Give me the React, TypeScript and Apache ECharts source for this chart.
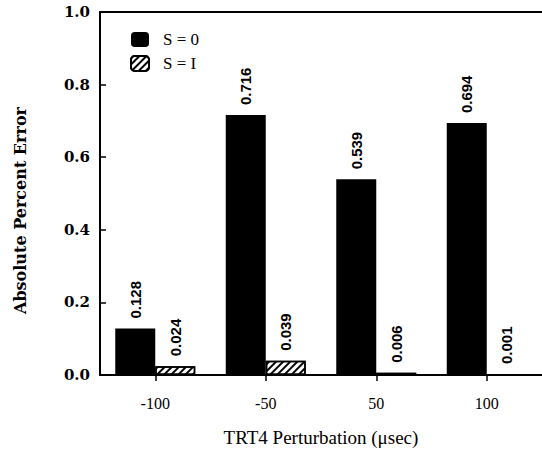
import React, { useEffect, useRef } from "react";
import * as echarts from "echarts";

const categories = ["-100", "-50", "50", "100"];
const s0Values = [0.128, 0.716, 0.539, 0.694];
const s1Values = [0.024, 0.039, 0.006, 0.001];
const yTicks = [0, 0.2, 0.4, 0.6, 0.8, 1.0];
const seriesNames = ["S = 0", "S = I"];

export default function App() {
  const ref = useRef<HTMLDivElement>(null);
  useEffect(() => {
    if (!ref.current) return;
    const chart = echarts.init(ref.current, null, { renderer: "svg" });
    const serif = "'Liberation Serif', 'DejaVu Serif', serif";
    const wideSerif = "'DejaVu Serif', serif";
    const sans = "'Liberation Sans', Arial, sans-serif";
    const makeLabel = () => ({
      show: true,
      position: "top" as const,
      rotate: 90,
      align: "left" as const,
      verticalAlign: "middle" as const,
      distance: 10,
      fontFamily: sans,
      fontWeight: "bold" as const,
      fontSize: 15,
      color: "#000",
      formatter: (p: any) => Number(p.value).toFixed(3),
    });
    chart.setOption({
      animation: false,
      backgroundColor: "#fff",
      grid: { left: 100, right: 0, top: 12, bottom: 74, containLabel: false },
      legend: {
        orient: "vertical",
        left: 125,
        top: 26,
        itemWidth: 18,
        itemHeight: 15,
        itemGap: 7,
        textStyle: { fontFamily: serif, fontSize: 17, color: "#000", padding: [0, 0, 0, 9] },
        data: seriesNames,
      },
      xAxis: [
        {
          type: "category",
          data: categories,
          axisLine: { show: true, lineStyle: { color: "#000", width: 2 } },
          axisTick: { show: true, alignWithLabel: true, length: 6, inside: false, lineStyle: { color: "#000", width: 1.5 } },
          axisLabel: { fontFamily: serif, fontSize: 16, color: "#000", margin: 20 },
          name: "TRT4 Perturbation (μsec)",
          nameLocation: "middle",
          nameGap: 53,
          nameTextStyle: { fontFamily: serif, fontSize: 19, color: "#000" },
        },
        {
          type: "category",
          data: categories,
          position: "top",
          axisLine: { show: true, lineStyle: { color: "#000", width: 2 } },
          axisTick: { show: false },
          axisLabel: { show: false },
        },
      ],
      yAxis: {
        type: "value",
        min: 0,
        max: 1,
        interval: 0.2,
        axisLine: { show: true, lineStyle: { color: "#000", width: 2 } },
        axisTick: { show: true, inside: true, length: 6, lineStyle: { color: "#000", width: 1.5 } },
        splitLine: { show: false },
        axisLabel: {
          fontFamily: wideSerif,
          fontWeight: "bold",
          fontSize: 15,
          color: "#000",
          margin: 10,
          formatter: (v: number) => (yTicks.includes(Math.round(v * 10) / 10) ? v.toFixed(1) : ""),
        },
        name: "Absolute Percent Error",
        nameLocation: "middle",
        nameGap: 72,
        nameTextStyle: {
          fontFamily: wideSerif,
          fontWeight: "bold",
          fontSize: 16,
          color: "#000",
          padding: [0, 34, 0, 0],
        },
      },
      series: [
        {
          name: seriesNames[0],
          type: "bar",
          data: s0Values,
          barWidth: 40,
          barGap: "0%",
          itemStyle: { color: "#000", borderColor: "#000", borderWidth: 0 },
          label: makeLabel(),
          labelLayout: { rotate: 90 },
        },
        {
          name: seriesNames[1],
          type: "bar",
          data: s1Values,
          barWidth: 40,
          barGap: "0%",
          itemStyle: {
            color: "#fff",
            borderColor: "#000",
            borderWidth: 1.5,
            decal: {
              symbol: "rect",
              symbolSize: 1,
              color: "#000",
              backgroundColor: "#fff",
              dashArrayX: [1, 0],
              dashArrayY: [2, 3],
              rotation: -Math.PI / 4,
            },
          },
          label: makeLabel(),
          labelLayout: { rotate: 90 },
        },
      ],
    });
    return () => chart.dispose();
  }, []);
  return (
    <div
      ref={ref}
      style={{ position: "fixed", left: 0, top: 0, width: 542, height: 452 }}
    />
  );
}
